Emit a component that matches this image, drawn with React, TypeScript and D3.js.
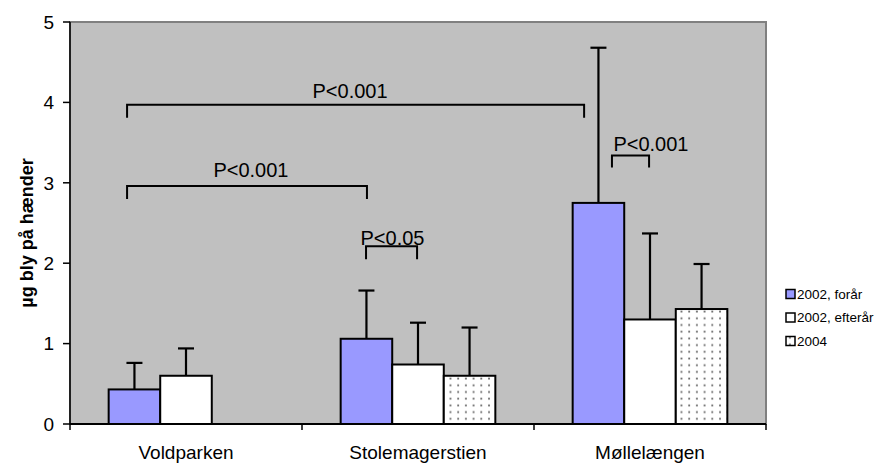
import React from 'react';
import * as d3 from 'd3';

const categories = ['Voldparken', 'Stolemagerstien', 'Møllelængen'];
const seriesNames = ['2002, forår', '2002, efterår', '2004'];
const spring2002 = [0.43, 1.06, 2.75];
const spring2002Upper = [0.76, 1.66, 4.68];
const autumn2002 = [0.6, 0.74, 1.3];
const autumn2002Upper = [0.94, 1.26, 2.37];
const year2004 = [null, 0.6, 1.43];
const year2004Upper = [null, 1.2, 1.99];
const yTicks = [0, 1, 2, 3, 4, 5];

// significance brackets, x in category units (0..3), y in µg
const brackets = [
  { x1: 0.246, x2: 2.216, y: 3.97, drop: 0.16, label: 'P<0.001', labelX: 1.207, labelY: 4.06 },
  { x1: 0.246, x2: 1.28, y: 2.96, drop: 0.16, label: 'P<0.001', labelX: 0.78, labelY: 3.07 },
  { x1: 1.276, x2: 1.496, y: 2.21, drop: 0.16, label: 'P<0.05', labelX: 1.39, labelY: 2.23 },
  { x1: 2.336, x2: 2.496, y: 3.34, drop: 0.15, label: 'P<0.001', labelX: 2.504, labelY: 3.4 },
];

const FONT = '"Liberation Sans", Arial, sans-serif';
const W = 883;
const H = 464;
const plot = { left: 70, right: 766, top: 22, bottom: 424 };

export default function App() {
  const x = d3.scaleBand().domain(categories).range([plot.left, plot.right]).padding(0);
  const xs = d3.scaleBand().domain(seriesNames).range([0, x.bandwidth()]).paddingInner(0).paddingOuter(0.75);
  const xu = d3.scaleLinear().domain([0, 3]).range([plot.left, plot.right]);
  const y = d3.scaleLinear().domain([0, 5]).range([plot.bottom, plot.top]);

  const series = [
    { name: seriesNames[0], values: spring2002, upper: spring2002Upper, fill: '#9999FF' },
    { name: seriesNames[1], values: autumn2002, upper: autumn2002Upper, fill: '#FFFFFF' },
    { name: seriesNames[2], values: year2004, upper: year2004Upper, fill: 'url(#dots)' },
  ];
  const bw = xs.bandwidth();

  return (
    <svg width={W} height={H} style={{ position: 'absolute', left: 0, top: 0 }} fontFamily={FONT}>
      <defs>
        <pattern id="dots" width={7.7} height={6.7} patternUnits="userSpaceOnUse">
          <rect width={7.7} height={6.7} fill="#fff" />
          <rect x={3} y={2.5} width={1.8} height={1.8} fill="#666" />
        </pattern>
      </defs>
      <rect x={plot.left} y={plot.top} width={plot.right - plot.left} height={plot.bottom - plot.top}
        fill="#C0C0C0" stroke="#808080" strokeWidth={2} />

      {/* bars */}
      {series.map((s) =>
        categories.map((c, i) => {
          const v = s.values[i];
          if (v == null) return null;
          const bx = (x(c) as number) + (xs(s.name) as number);
          return (
            <rect key={s.name + c} x={bx} y={y(v)} width={bw} height={y(0) - y(v)}
              fill={s.fill} stroke="#000" strokeWidth={2} />
          );
        })
      )}

      {/* error bars */}
      {series.map((s) =>
        categories.map((c, i) => {
          const v = s.values[i];
          const u = s.upper[i];
          if (v == null || u == null) return null;
          const cx = (x(c) as number) + (xs(s.name) as number) + bw / 2;
          return (
            <g key={'e' + s.name + c} stroke="#000" strokeWidth={2.2}>
              <line x1={cx} x2={cx} y1={y(v)} y2={y(u)} />
              <line x1={cx - 8} x2={cx + 8} y1={y(u)} y2={y(u)} />
            </g>
          );
        })
      )}

      {/* brackets */}
      {brackets.map((b, i) => (
        <g key={'b' + i}>
          <path
            d={`M${xu(b.x1)},${y(b.y - b.drop)}V${y(b.y)}H${xu(b.x2)}V${y(b.y - b.drop)}`}
            fill="none" stroke="#000" strokeWidth={2} />
          <text x={xu(b.labelX)} y={y(b.labelY)} textAnchor="middle" fontSize={20} fill="#000">{b.label}</text>
        </g>
      ))}

      {/* axes */}
      <line x1={plot.left} x2={plot.left} y1={plot.top} y2={plot.bottom} stroke="#000" strokeWidth={1.5} />
      <line x1={plot.left} x2={plot.right} y1={plot.bottom} y2={plot.bottom} stroke="#000" strokeWidth={2} />
      {yTicks.map((t) => (
        <g key={'y' + t}>
          <line x1={plot.left - 7} x2={plot.left} y1={y(t)} y2={y(t)} stroke="#000" strokeWidth={1.5} />
          <text x={54} y={y(t)} dy="0.36em" textAnchor="end" fontSize={19}>{t}</text>
        </g>
      ))}
      {[0, 1, 2, 3].map((k) => (
        <line key={'xt' + k} x1={xu(k)} x2={xu(k)} y1={plot.bottom} y2={plot.bottom + 6} stroke="#000" strokeWidth={1.5} />
      ))}
      {categories.map((c) => (
        <text key={'c' + c} x={(x(c) as number) + x.bandwidth() / 2} y={459} textAnchor="middle" fontSize={19}>{c}</text>
      ))}
      <text transform={`translate(33,${(plot.top + plot.bottom) / 2 + 10}) rotate(-90)`} textAnchor="middle"
        fontSize={18} fontWeight="bold">µg bly på hænder</text>

      {/* legend */}
      {series.map((s, i) => (
        <g key={'l' + s.name} transform={`translate(786,${294 + i * 23.5})`}>
          <rect x={0} y={-4.5} width={9} height={9} fill={s.fill} stroke="#000" strokeWidth={1.5} />
          <text x={11} y={0} dy="0.35em" fontSize={13.5}>{s.name}</text>
        </g>
      ))}
    </svg>
  );
}
